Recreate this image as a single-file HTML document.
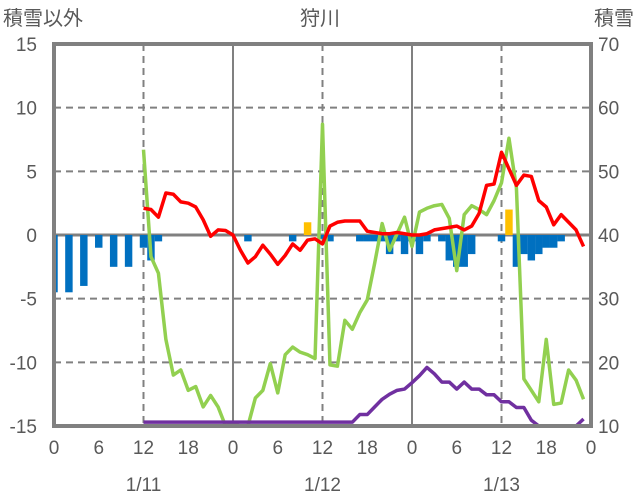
<!DOCTYPE html>
<html><head><meta charset="utf-8">
<style>
body{margin:0;background:#fff;}
svg{display:block;font-family:"Liberation Sans","Noto Sans CJK JP",sans-serif;}
</style></head>
<body>
<svg id="chart" width="636" height="501" viewBox="0 0 636 501">
<g id="grid"></g>
<g id="bars"></g>
<g id="lines"></g>
<g id="frame"></g>
<g id="labels" fill="#595959" font-size="19"></g>
<text x="3" y="25" font-size="20" fill="#595959">積雪以外</text>
<text x="320" y="25" font-size="20" fill="#595959" text-anchor="middle">狩川</text>
<text x="634" y="25" font-size="20" fill="#595959" text-anchor="end">積雪</text>
</svg>
<script>
const hourTicks=[0,6,12,18,0,6,12,18,0,6,12,18,0];
const leftTicks=[15,10,5,0,-5,-10,-15];
const rightTicks=[70,60,50,40,30,20,10];
const dateLabels=["1/11","1/12","1/13"];
const barHours=[0,2,4,6,8,10,12,13,14,26,32,34,36,37,41,42,43,44,45,46,47,48,49,50,52,53,54,55,56,60,61,62,63,64,65,66,67,68];
const barValues=[-4.5,-4.5,-4,-1,-2.5,-2.5,-1,-2,-0.5,-0.5,-0.5,1,-0.3,-0.5,-0.5,-0.5,-0.5,-0.5,-1.5,-0.5,-1.5,-0.5,-1.5,-0.5,-0.5,-2,-2.5,-2.5,-1.5,-0.5,2,-2.5,-1.5,-2,-1.5,-1,-1,-0.5];
const tempHours=[12,13,14,15,16,17,18,19,20,21,22,23,24,25,26,27,28,29,30,31,32,33,34,35,36,37,38,39,40,41,42,43,44,45,46,47,48,49,50,51,52,53,54,55,56,57,58,59,60,61,62,63,64,65,66,67,68,69,70,71];
const tempValues=[2.1,2.0,1.4,3.3,3.2,2.6,2.5,2.2,1.2,-0.1,0.4,0.35,0,-1.2,-2.2,-1.7,-0.8,-1.5,-2.3,-1.6,-0.7,-1.2,-0.4,-0.3,-0.7,0.7,1.0,1.1,1.1,1.1,0.3,0.2,0.1,0.1,0.2,0.1,0,0,0.1,0.4,0.5,0.6,0.7,0.4,0.7,1.7,3.9,4.0,6.5,5.2,3.9,4.7,4.6,2.7,2.2,0.8,1.6,1.0,0.4,-0.9];
const greenValues=[6.7,-1.7,-3.0,-8.2,-11.0,-10.6,-12.2,-11.9,-13.5,-12.6,-13.5,-15,-14.8,-15,-15,-12.8,-12.2,-10.1,-12.4,-9.4,-8.8,-9.2,-9.4,-9.7,8.7,-10.2,-10.3,-6.7,-7.4,-6.1,-5.1,-2.2,0.9,-1.2,0.1,1.4,-0.9,1.8,2.1,2.3,2.4,1.3,-2.8,1.6,2.3,2.0,1.6,2.7,4.1,7.6,3.7,-11.3,-12.2,-13.1,-8.2,-13.3,-13.2,-10.6,-11.4,-12.9];
const snowValues=[10.6,10.6,10.6,10.6,10.6,10.6,10.6,10.6,10.6,10.6,10.6,10.6,10.6,10.6,10.6,10.6,10.6,10.6,10.6,10.6,10.6,10.6,10.6,10.6,10.6,10.6,10.6,10.6,10.6,11.8,11.8,13.0,14.2,15.0,15.6,15.8,16.8,17.9,19.2,18.2,16.9,16.9,15.8,16.9,15.8,15.8,14.9,14.9,13.8,13.8,12.9,12.9,10.9,10.0,10.0,10.0,10.0,10.0,10.0,11.1];

const NS="http://www.w3.org/2000/svg";
const X0=54,X1=591,Y0=44,Y1=426;
const xs=h=>X0+h*(X1-X0)/72;
const yl=v=>Y0+(15-v)*(Y1-Y0)/30;
const yr=v=>Y0+(70-v)*(Y1-Y0)/60;
function mk(tag,attrs,parent){const e=document.createElementNS(NS,tag);for(const k in attrs)e.setAttribute(k,attrs[k]);parent.appendChild(e);return e;}
const grid=document.getElementById('grid'),bars=document.getElementById('bars'),lines=document.getElementById('lines'),frame=document.getElementById('frame'),labels=document.getElementById('labels');

leftTicks.forEach(v=>{if(v===15||v===-15||v===0)return;
 const l=mk('line',{x1:X0,x2:X1,y1:yl(v),y2:yl(v),stroke:'#808080','stroke-width':2,'stroke-dasharray':'7,5'},grid);
 
 });
[12,36,60].forEach(h=>{const l=mk('line',{x1:xs(h),x2:xs(h),y1:Y0,y2:Y1,stroke:'#808080','stroke-width':2,'stroke-dasharray':'7,5'},grid);
 
 });
[24,48].forEach(h=>{const l=mk('line',{x1:xs(h),x2:xs(h),y1:Y0,y2:Y1,stroke:'#808080','stroke-width':2},grid);
 
 });
const z=mk('line',{x1:X0,x2:X1,y1:yl(0),y2:yl(0),stroke:'#808080','stroke-width':3},grid);



const bw=(X1-X0)/72;
barHours.forEach((h,i)=>{const v=barValues[i];
 let x=xs(h)-bw/2,w=bw;if(x<X0){w-=X0-x;x=X0;}
 const y=Math.min(yl(0),yl(v)),hh=Math.abs(yl(v)-yl(0));
 const r=mk('rect',{x:x,y:y,width:w,height:hh,fill:v>0?'#FFC000':'#0070C0'},bars);
 
 });

function poly(vals,yf,color,name){const pts=vals.map((v,i)=>xs(tempHours[i])+','+yf(v)).join(' ');
 const p=mk('polyline',{points:pts,fill:'none',stroke:color,'stroke-width':3.5,'stroke-linejoin':'round'},lines);
 
 }
poly(greenValues,v=>yl(Math.max(-15,v)),'#92D050','green-line');
poly(snowValues,v=>yr(Math.max(10,v)),'#7030A0','snow-depth-line');
poly(tempValues,yl,'#FF0000','temperature-line');

const fr=mk('rect',{x:X0,y:Y0,width:X1-X0,height:Y1-Y0,fill:'none',stroke:'#808080','stroke-width':4},frame);



leftTicks.forEach(v=>{const t=mk('text',{x:37,y:yl(v)+7,'text-anchor':'end'},labels);t.textContent=v;
 
 });
rightTicks.forEach(v=>{const t=mk('text',{x:598,y:yr(v)+7},labels);t.textContent=v;
 
 });
hourTicks.forEach((v,i)=>{const t=mk('text',{x:xs(i*6),y:454,'text-anchor':'middle'},labels);t.textContent=v;
 
 });
dateLabels.forEach((d,i)=>{const t=mk('text',{x:xs(12+24*i),y:491,'text-anchor':'middle'},labels);t.textContent=d;
 
 });
</script>
</body></html>
